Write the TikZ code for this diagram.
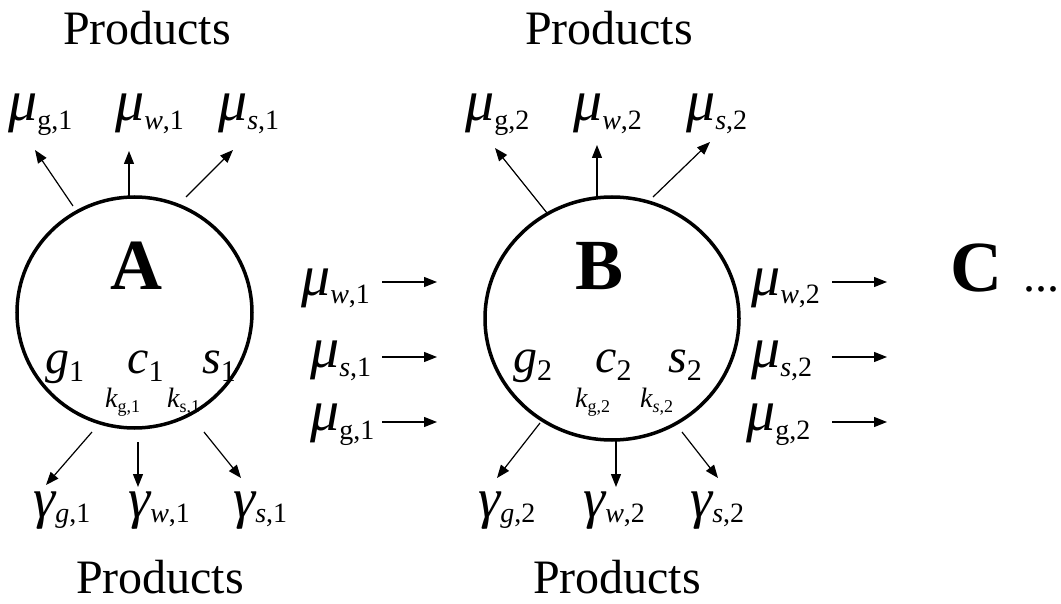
\documentclass[tikz,border=0pt]{standalone}
\usepackage{fontspec}
\setmainfont{Liberation Serif}
\usetikzlibrary{arrows.meta,shapes.geometric}
\newcommand\bigsz{\fontsize{48}{50}\selectfont}
\newcommand\subsz{\fontsize{28}{30}\selectfont}
\newcommand\mulbl[1]{{\fontsize{58}{60}\selectfont\itshape μ}\raisebox{-9pt}{\subsz #1}}
\newcommand\galbl[1]{{\fontsize{56}{58}\selectfont\itshape γ}\raisebox{-5pt}{\subsz #1}}
\newcommand\inlbl[2]{{\itshape #1}\raisebox{-8pt}{\fontsize{30}{32}\selectfont #2}}
\newcommand\klbl[1]{{\fontsize{28}{30}\selectfont\itshape k}\raisebox{-5pt}{\fontsize{18}{20}\selectfont #1}}
\tikzset{
  txt/.style={inner sep=0pt, anchor=base west, font=\bigsz},
  prod/.style={inner sep=0pt, anchor=base, font=\bigsz},
  big/.style={inner sep=0pt, anchor=base, font=\fontsize{72}{74}\selectfont\bfseries},
  ring/.style={draw, ellipse, line width=3.5pt, inner sep=0pt},
  arr/.style={line width=1.2pt, -{Triangle[length=13pt,width=10pt]}},
}
\begin{document}
\begin{tikzpicture}[x=1pt,y=-1pt]
\useasboundingbox (0,0) rectangle (1061,604);
% circles
\node[ring, minimum width=235pt, minimum height=231pt] (cA) at (134.5,312.5) {};
\node[ring, minimum width=254pt, minimum height=243pt] (cB) at (612,318.5) {};
\node[big] (tA) at (136,290) {A};
\node[big] (tB) at (600,290) {B};
\node[big, anchor=base west] (tC) at (950,292) {C};
\node[txt] (dots) at (1023,292) {...};
% Products
\node[prod] (p1) at (147,45) {Products};
\node[prod] (p2) at (609,45) {Products};
\node[prod] (p3) at (160,593) {Products};
\node[prod] (p4) at (617,593) {Products};
% top mu labels
\node[txt] (mug1) at (8,121) {\mulbl{g,1}};
\node[txt] (muw1) at (115,121) {\mulbl{\itshape w\upshape,1}};
\node[txt] (mus1) at (218,121) {\mulbl{\itshape s\upshape,1}};
\node[txt] (mug2) at (465,121) {\mulbl{g,2}};
\node[txt] (muw2) at (573,121) {\mulbl{\itshape w\upshape,2}};
\node[txt] (mus2) at (686,121) {\mulbl{\itshape s\upshape,2}};
% middle mu labels
\node[txt] (mw1) at (301,295) {\mulbl{\itshape w\upshape,1}};
\node[txt] (ms1) at (310,367) {\mulbl{\itshape s\upshape,1}};
\node[txt] (mg1) at (310,430) {\mulbl{g,1}};
\node[txt] (mw2) at (751,295) {\mulbl{\itshape w\upshape,2}};
\node[txt] (ms2) at (751,367) {\mulbl{\itshape s\upshape,2}};
\node[txt] (mg2) at (746,430) {\mulbl{g,2}};
% gamma labels
\node[txt] (gg1) at (33,517) {\galbl{\itshape g\upshape,1}};
\node[txt] (gw1) at (128,517) {\galbl{\itshape w\upshape,1}};
\node[txt] (gs1) at (233,517) {\galbl{\itshape s\upshape,1}};
\node[txt] (gg2) at (478,517) {\galbl{\itshape g\upshape,2}};
\node[txt] (gw2) at (583,517) {\galbl{\itshape w\upshape,2}};
\node[txt] (gs2) at (690,517) {\galbl{\itshape s\upshape,2}};
% inside labels
\node[txt] (g1) at (45,373) {\inlbl{g}{1}};
\node[txt] (c1) at (127,373) {\inlbl{c}{1}};
\node[txt] (s1) at (202,373) {\inlbl{s}{1}};
\node[txt] (g2) at (513,372) {\inlbl{g}{2}};
\node[txt] (c2) at (595,372) {\inlbl{c}{2}};
\node[txt] (s2) at (668,372) {\inlbl{s}{2}};
\node[txt] (kg1) at (105,407) {\klbl{g,1}};
\node[txt] (ks1) at (167,407) {\klbl{s,1}};
\node[txt] (kg2) at (575,407) {\klbl{g,2}};
\node[txt] (ks2) at (640,407) {\klbl{\itshape s\upshape,2}};
% arrow coordinates
\coordinate (a1s) at (73,206);  \coordinate (a1e) at (35,150);
\coordinate (a2s) at (129,197); \coordinate (a2e) at (129,151);
\coordinate (a3s) at (186,197); \coordinate (a3e) at (233,150);
\coordinate (b1s) at (547,213); \coordinate (b1e) at (495,148);
\coordinate (b2s) at (597,197); \coordinate (b2e) at (597,145);
\coordinate (b3s) at (653,197); \coordinate (b3e) at (710,142);
\coordinate (a4s) at (92,432);  \coordinate (a4e) at (46,485);
\coordinate (a5s) at (138,442); \coordinate (a5e) at (138,487);
\coordinate (a6s) at (204,432); \coordinate (a6e) at (241,478);
\coordinate (b4s) at (540,423); \coordinate (b4e) at (497,478);
\coordinate (b5s) at (616,440); \coordinate (b5e) at (616,487);
\coordinate (b6s) at (682,432); \coordinate (b6e) at (718,478);
\coordinate (m1s) at (382,282); \coordinate (m1e) at (437,282);
\coordinate (m2s) at (382,357); \coordinate (m2e) at (437,357);
\coordinate (m3s) at (382,422); \coordinate (m3e) at (437,422);
\coordinate (n1s) at (832,282); \coordinate (n1e) at (887,282);
\coordinate (n2s) at (832,357); \coordinate (n2e) at (887,357);
\coordinate (n3s) at (832,422); \coordinate (n3e) at (887,422);
\foreach \p in {a1,a2,a3,a4,a5,a6,b1,b2,b3,b4,b5,b6,m1,m2,m3,n1,n2,n3}
  \draw[arr] (\p s) -- (\p e);
\end{tikzpicture}
\end{document}
